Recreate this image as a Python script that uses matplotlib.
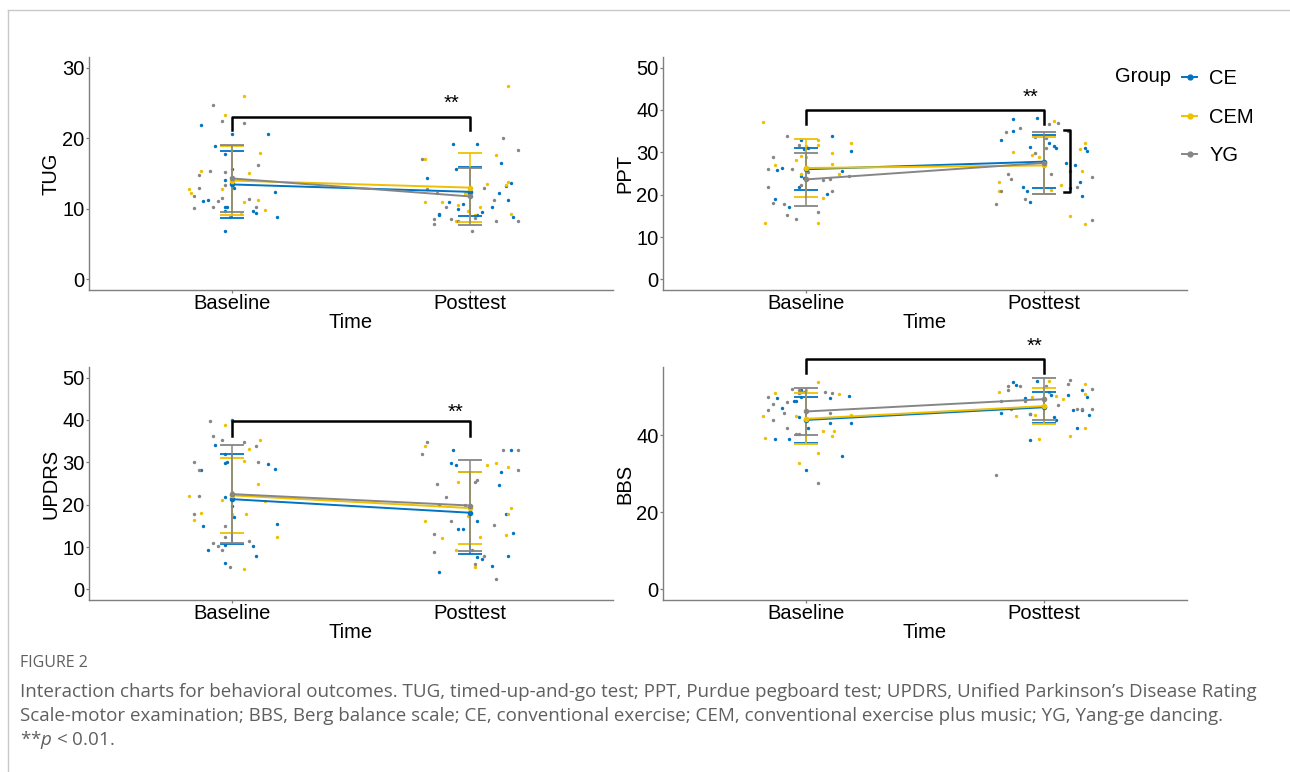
import matplotlib.pyplot as plt
from matplotlib.lines import Line2D

plt.rcParams['font.family'] = ['Liberation Sans', 'DejaVu Sans']
plt.rcParams['mathtext.fontset'] = 'custom'
plt.rcParams['mathtext.rm'] = 'Open Sans'
plt.rcParams['mathtext.it'] = 'Open Sans:italic'

groups = ['CE', 'CEM', 'YG']
colors = ['#0073C2', '#EFC000', '#868686']
times = ['Baseline', 'Posttest']

## TUG
tug_ce_x = [0.87, 0.88, 0.90, 0.93, 0.97, 0.97, 0.97, 0.98, 0.97, 0.97, 1.00, 1.00, 1.01, 1.09, 1.10, 1.15, 1.18, 1.19,
            1.82, 1.87, 1.87, 1.91, 1.93, 1.94, 1.95, 1.97, 2.00, 2.03, 2.03, 2.05, 2.09, 2.12, 2.13, 2.15, 2.16, 2.17, 2.18]
tug_ce_y = [21.9, 11.1, 11.2, 18.9, 17.7, 14.1, 10.2, 10.2, 9.7, 6.8, 20.6, 15.7, 13.0, 9.7, 9.4, 20.6, 12.4, 8.8,
            14.4, 9.1, 9.3, 11.0, 19.2, 15.7, 10.0, 10.7, 12.4, 19.2, 9.1, 9.5, 10.2, 12.2, 16.5, 13.2, 11.2, 13.7, 8.9]
tug_cem_x = [0.82, 0.83, 0.87, 0.97, 0.96, 1.00, 1.05, 1.05, 1.07, 1.11, 1.12, 1.14, 1.04,
             1.81, 1.81, 1.88, 1.94, 1.95, 1.98, 1.99, 1.99, 2.02, 2.04, 2.07, 2.11, 2.15, 2.16, 2.16, 2.17]
tug_cem_y = [12.8, 12.3, 15.4, 23.3, 12.8, 13.7, 26.0, 10.9, 15.1, 11.2, 17.9, 9.9, 9.2,
             17.1, 11.0, 11.0, 8.3, 10.5, 12.3, 9.7, 12.2, 9.1, 10.2, 13.5, 17.6, 13.4, 13.8, 27.4, 9.2]
tug_yg_x = [0.84, 0.84, 0.86, 0.86, 0.91, 0.92, 0.92, 0.94, 0.96, 0.96, 0.97, 0.97, 0.99, 1.05, 1.07, 1.11, 1.10,
            1.80, 1.82, 1.85, 1.85, 1.86, 1.90, 1.92, 1.95, 2.01, 2.02, 2.06, 2.10, 2.11, 2.14, 2.20, 2.20]
tug_yg_y = [11.8, 10.1, 14.8, 12.9, 15.4, 24.7, 10.3, 11.1, 11.6, 22.5, 15.2, 13.4, 8.9, 22.2, 11.4, 16.2, 10.3,
            17.0, 12.8, 8.6, 7.9, 12.2, 10.2, 8.5, 8.3, 6.8, 8.7, 13.0, 11.3, 8.3, 20.0, 8.3, 18.3]
tug_mean = {'CE': [13.45, 12.4], 'CEM': [14.0, 13.0], 'YG': [14.3, 11.75]}
tug_sd = {'CE': [4.7, 3.45], 'CEM': [4.9, 4.85], 'YG': [4.75, 4.0]}

## PPT
ppt_ce_x = [0.87, 0.88, 0.90, 0.93, 0.97, 0.98, 0.98, 0.99, 0.99, 1.01, 1.01, 1.11, 1.09, 1.15, 1.19,
            1.82, 1.87, 1.87, 1.91, 1.93, 1.94, 1.94, 1.97, 2.02, 2.04, 2.05, 2.09, 2.11, 2.13, 2.15, 2.16, 2.17, 2.18]
ppt_ce_y = [19.0, 25.9, 26.2, 17.1, 21.9, 32.9, 24.3, 24.0, 30.7, 26.2, 31.0, 33.8, 20.2, 25.6, 30.3,
            32.8, 37.9, 35.1, 21.9, 20.8, 18.3, 31.2, 38.1, 32.3, 31.6, 31.0, 27.4, 21.6, 26.9, 23.0, 19.8, 31.0, 30.3]
ppt_cem_x = [0.82, 0.83, 0.87, 0.96, 0.98, 0.98, 1.00, 1.00, 1.05, 1.05, 1.05, 1.11, 1.11, 1.07, 1.14, 1.19,
             1.81, 1.81, 1.87, 1.95, 1.98, 2.04, 2.03, 2.07, 2.15, 2.16, 2.17, 2.11, 2.17]
ppt_cem_y = [37.1, 13.3, 27.0, 28.2, 24.9, 29.2, 28.9, 31.5, 13.3, 33.0, 31.7, 29.9, 27.2, 19.1, 24.9, 32.3,
             23.1, 20.8, 30.1, 29.4, 29.0, 37.4, 21.2, 22.4, 30.8, 25.6, 32.1, 14.9, 13.0]
ppt_yg_x = [0.84, 0.84, 0.86, 0.86, 0.91, 0.92, 0.92, 0.94, 0.96, 0.97, 0.98, 1.01, 1.05, 1.11, 1.07, 1.10, 1.18,
            1.80, 1.82, 1.85, 1.86, 1.84, 1.90, 1.92, 1.96, 1.96, 2.02, 2.06, 2.01, 2.03, 2.11, 2.14, 2.20, 2.20, 2.10, 2.01]
ppt_yg_y = [26.1, 21.7, 29.0, 18.0, 17.8, 15.1, 33.8, 26.1, 14.2, 31.7, 22.3, 25.3, 15.8, 20.9, 23.4, 23.7, 24.3,
            17.9, 20.8, 24.9, 23.8, 34.8, 35.7, 19.0, 29.8, 33.5, 36.7, 37.0, 31.0, 24.8, 25.7, 21.9, 24.1, 14.0, 35.0, 33.3]
ppt_mean = {'CE': [26.0, 27.8], 'CEM': [26.3, 26.9], 'YG': [23.6, 27.5]}
ppt_sd = {'CE': [5.0, 6.25], 'CEM': [6.85, 6.8], 'YG': [6.25, 7.4]}

## UPDRS
updrs_ce_x = [0.87, 0.88, 0.90, 0.93, 0.97, 0.97, 0.97, 0.97, 0.97, 0.98, 1.00, 1.00, 1.01, 1.09, 1.10, 1.15, 1.18, 1.19,
              1.87, 1.87, 1.93, 1.92, 1.94, 1.95, 1.97, 2.00, 2.03, 2.03, 2.05, 2.09, 2.12, 2.13, 2.15, 2.16, 2.17, 2.18]
updrs_ce_y = [28.1, 14.9, 9.2, 34.2, 6.3, 29.9, 21.9, 32.0, 10.4, 30.1, 39.9, 19.7, 17.0, 10.2, 7.8, 29.7, 28.4, 15.4,
              4.1, 20.0, 32.8, 29.9, 29.4, 14.2, 14.2, 18.2, 16.1, 7.7, 7.1, 5.5, 24.7, 27.8, 17.9, 7.8, 32.9, 13.3]
updrs_cem_x = [0.82, 0.84, 0.87, 0.96, 0.97, 1.00, 1.00, 1.05, 1.05, 1.07, 1.06, 1.12, 1.11, 1.19, 1.14,
               1.81, 1.81, 1.88, 1.95, 1.94, 1.99, 2.02, 2.04, 2.07, 2.11, 2.15, 2.16, 2.16, 2.17]
updrs_cem_y = [22.1, 16.3, 18.0, 21.2, 38.9, 23.0, 17.8, 4.9, 30.3, 33.1, 17.7, 35.2, 24.9, 12.3, 20.8,
               33.8, 16.2, 12.1, 25.3, 9.2, 17.4, 5.3, 12.4, 29.3, 29.8, 12.8, 17.7, 28.9, 19.3]
updrs_yg_x = [0.84, 0.84, 0.86, 0.86, 0.91, 0.92, 0.92, 0.94, 0.96, 0.96, 0.97, 0.97, 0.99, 1.05, 1.07, 1.10, 1.11,
              1.80, 1.82, 1.85, 1.85, 1.86, 1.90, 1.92, 1.98, 2.01, 2.02, 2.02, 2.03, 2.06, 2.10, 2.11, 2.14, 2.20, 2.20]
updrs_yg_y = [30.1, 17.7, 28.1, 22.0, 39.7, 36.1, 10.9, 10.2, 9.2, 35.3, 14.9, 12.3, 5.3, 34.9, 11.4, 33.9, 30.0,
              31.9, 34.9, 13.0, 8.8, 24.8, 21.9, 16.1, 20.0, 9.4, 6.0, 25.3, 25.9, 8.0, 15.3, 2.5, 32.8, 28.1, 32.9]
updrs_mean = {'CE': [21.3, 18.1], 'CEM': [22.2, 19.2], 'YG': [22.5, 19.8]}
updrs_sd = {'CE': [10.55, 9.7], 'CEM': [8.9, 8.5], 'YG': [11.6, 10.75]}

## BBS
bbs_ce_x = [0.87, 0.88, 0.90, 0.93, 0.95, 0.97, 0.96, 0.98, 0.98, 1.00, 1.01, 1.10, 1.10, 1.15, 1.18, 1.19,
            1.82, 1.87, 1.88, 1.92, 1.94, 1.94, 1.97, 2.03, 2.04, 2.05, 2.10, 2.12, 2.14, 2.16, 2.16, 2.18, 2.19]
bbs_ce_y = [39.0, 49.8, 47.0, 39.0, 49.0, 44.8, 49.0, 51.9, 50.0, 30.9, 42.0, 43.1, 49.8, 34.6, 50.3, 43.2,
            45.7, 53.9, 53.1, 49.8, 38.8, 45.5, 54.1, 50.4, 44.7, 44.0, 50.4, 46.7, 41.8, 46.7, 51.9, 50.0, 45.2]
bbs_cem_x = [0.82, 0.83, 0.87, 0.96, 0.97, 0.97, 1.00, 1.05, 1.05, 1.07, 1.12, 1.11, 1.14, 1.19,
             1.81, 1.88, 1.95, 1.96, 1.98, 2.02, 2.05, 2.08, 2.11, 2.17, 2.17, 2.17]
bbs_cem_y = [45.0, 39.3, 51.1, 45.1, 50.9, 32.9, 51.8, 53.9, 35.3, 41.1, 41.1, 39.9, 50.8, 45.3,
             51.2, 45.0, 50.0, 45.3, 39.0, 54.2, 50.2, 49.4, 39.8, 41.9, 50.7, 53.3]
bbs_yg_x = [0.84, 0.84, 0.86, 0.86, 0.91, 0.92, 0.92, 0.94, 0.96, 0.97, 0.97, 0.97, 0.98, 0.99, 1.05, 1.08, 1.10, 1.11,
            1.80, 1.82, 1.85, 1.85, 1.86, 1.90, 1.92, 1.94, 2.01, 2.02, 2.06, 2.10, 2.11, 2.14, 2.16, 2.20, 2.20]
bbs_yg_y = [50.0, 46.6, 44.0, 48.1, 45.7, 42.0, 48.7, 52.1, 40.3, 40.3, 50.9, 51.8, 51.2, 51.3, 27.7, 51.3, 45.8, 51.1,
            29.8, 48.8, 51.9, 52.8, 46.8, 52.8, 49.0, 45.5, 52.8, 51.3, 47.8, 53.3, 54.4, 46.8, 46.8, 52.0, 46.9]
bbs_mean = {'CE': [44.0, 47.3], 'CEM': [44.3, 47.6], 'YG': [46.2, 49.4]}
bbs_sd = {'CE': [6.05, 4.05], 'CEM': [6.6, 4.7], 'YG': [6.15, 5.5]}

## significance brackets: (bar level, tip level, star x, star y)
tug_sig = [23.0, 21.1, 1.92, 24.9]
ppt_sig = [40.1, 36.7, 1.945, 43.0]
updrs_sig = [39.7, 36.2, 1.94, 41.7]
bbs_sig = [59.8, 56.1, 1.96, 63.2]
ppt_side = [35.3, 20.6]  # vertical bracket at posttest

axis_col = '#7f7f7f'
fs = 14.5


def draw_panel(ax, xs, ys, means, sds, sig, ylabel, ylim, yticks):
    for i, g in enumerate(groups):
        ax.scatter(xs[i], ys[i], s=6, color=colors[i], lw=0, zorder=2)
    for i, g in enumerate(groups):
        ax.plot([1, 2], means[g], color=colors[i], lw=1.4, zorder=3)
    for i, g in enumerate(groups):
        ax.errorbar([1, 2], means[g], yerr=sds[g], fmt='o', ms=3, color=colors[i],
                    elinewidth=1.1, capsize=8.5, capthick=1.3, zorder=4)
    ax.plot([1, 1, 2, 2], [sig[1], sig[0], sig[0], sig[1]], color='black', lw=1.8,
            clip_on=False, zorder=5)
    ax.text(sig[2], sig[3], '**', ha='center', va='center', fontsize=fs, clip_on=False)

    ax.set_xlim(0.4, 2.6)
    ax.set_ylim(*ylim)
    ax.set_xticks([1, 2])
    ax.set_xticklabels(times)
    ax.set_yticks(yticks)
    ax.set_xlabel('Time', fontsize=fs, labelpad=0)
    ax.set_ylabel(ylabel, fontsize=fs, labelpad=1.5)
    for s in ['top', 'right']:
        ax.spines[s].set_visible(False)
    for s in ['left', 'bottom']:
        ax.spines[s].set_color(axis_col)
        ax.spines[s].set_linewidth(1.0)
    ax.tick_params(axis='both', length=2.2, width=0.9, color=axis_col,
                   labelsize=fs, labelcolor='black', pad=1)


fig = plt.figure(figsize=(12.9, 7.72), dpi=100)

W, H = 1290, 772
def box(x0, y0, x1, y1):
    return [x0 / W, 1 - y1 / H, (x1 - x0) / W, (y1 - y0) / H]

ax1 = fig.add_axes(box(89, 57, 613, 290))
ax2 = fig.add_axes(box(663, 57, 1187, 290))
ax3 = fig.add_axes(box(89, 367, 613, 600))
ax4 = fig.add_axes(box(663, 367, 1187, 600))

draw_panel(ax1, [tug_ce_x, tug_cem_x, tug_yg_x], [tug_ce_y, tug_cem_y, tug_yg_y],
           tug_mean, tug_sd, tug_sig, 'TUG', (-1.5, 31.5), [0, 10, 20, 30])
draw_panel(ax2, [ppt_ce_x, ppt_cem_x, ppt_yg_x], [ppt_ce_y, ppt_cem_y, ppt_yg_y],
           ppt_mean, ppt_sd, ppt_sig, 'PPT', (-2.5, 52.5), [0, 10, 20, 30, 40, 50])
draw_panel(ax3, [updrs_ce_x, updrs_cem_x, updrs_yg_x], [updrs_ce_y, updrs_cem_y, updrs_yg_y],
           updrs_mean, updrs_sd, updrs_sig, 'UPDRS', (-2.5, 52.5), [0, 10, 20, 30, 40, 50])
draw_panel(ax4, [bbs_ce_x, bbs_cem_x, bbs_yg_x], [bbs_ce_y, bbs_cem_y, bbs_yg_y],
           bbs_mean, bbs_sd, bbs_sig, 'BBS', (-2.75, 57.75), [0, 20, 40])

# right-hand bracket on PPT posttest
ax2.plot([2.083, 2.11, 2.11, 2.083], [ppt_side[0], ppt_side[0], ppt_side[1], ppt_side[1]],
         color='black', lw=1.8, clip_on=False, zorder=5)

# legend
handles = [Line2D([], [], color=c, lw=1.4, marker='o', ms=3.5) for c in colors]
fig.legend(handles, groups, loc='upper left', bbox_to_anchor=(1182 / W, 1 - 69 / H),
           frameon=False, fontsize=fs, handlelength=0.75, handletextpad=0.6,
           labelspacing=0.98, borderpad=0, borderaxespad=0)
fig.text(1115 / W, 1 - 77 / H, 'Group', fontsize=fs, va='center', ha='left')

# outer frame lines
fig.add_artist(Line2D([8 / W, 1], [1 - 10 / H, 1 - 10 / H], color='#c8c8c8', lw=1))
fig.add_artist(Line2D([8 / W, 8 / W], [0, 1 - 10 / H], color='#c8c8c8', lw=1))

# caption
cap_col = '#5f5f5f'
fig.text(20 / W, 1 - 663 / H, 'FIGURE 2', fontsize=11.5, color=cap_col, va='center', family='Open Sans')
cap1 = ('Interaction charts for behavioral outcomes. TUG, timed-up-and-go test; PPT, Purdue pegboard test; '
        'UPDRS, Unified Parkinson\u2019s Disease Rating')
cap2 = ('Scale-motor examination; BBS, Berg balance scale; CE, conventional exercise; CEM, conventional '
        'exercise plus music; YG, Yang-ge dancing.')
fig.text(20 / W, 1 - 692 / H, cap1, fontsize=13.5, color=cap_col, va='center', family='Open Sans')
fig.text(20 / W, 1 - 716 / H, cap2, fontsize=13.5, color=cap_col, va='center', family='Open Sans')
fig.text(20 / W, 1 - 740 / H, '**$p$ < 0.01.', fontsize=13.5, color=cap_col, va='center', family='Open Sans')

fig.savefig('out.png', dpi=100)
